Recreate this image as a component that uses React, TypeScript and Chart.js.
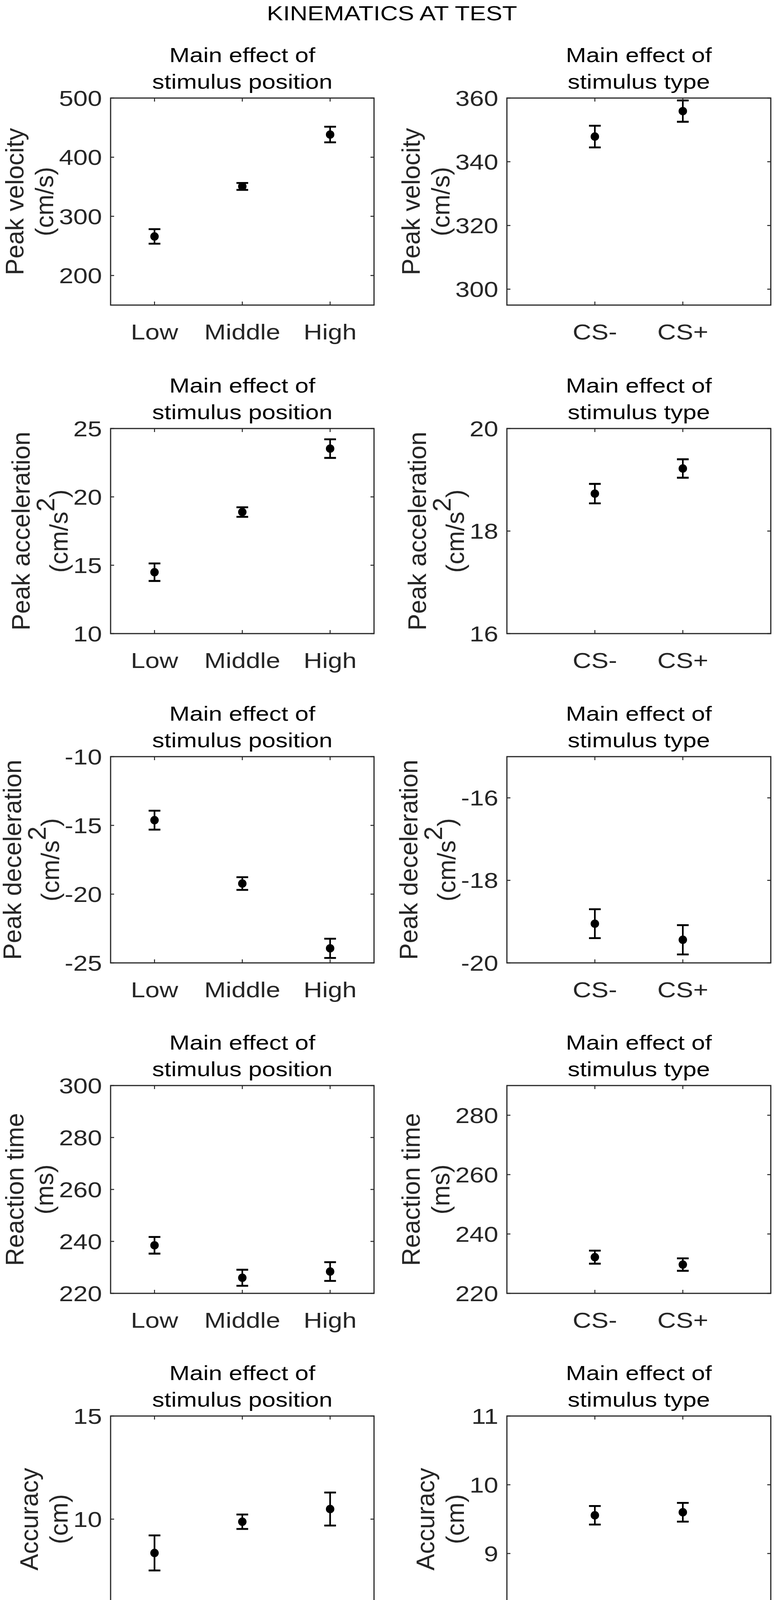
import React, { useEffect, useRef } from "react";
import { Chart, registerables } from "chart.js";

Chart.register(...registerables);

// ---------------- DATA ----------------
const positionCategories = ["Low", "Middle", "High"];
const typeCategories = ["CS-", "CS+"];
const positionX = [1, 2, 3];
const typeX = [1, 2];
const positionXRange = [0.5, 3.5];
const typeXRange = [0, 3];

const velocityPosMean = [266.0, 350.6, 438.3];
const velocityPosErr = [12.3, 5.9, 13.2];
const velocityTypeMean = [347.9, 355.9];
const velocityTypeErr = [3.4, 3.35];
const velocityPosRange = [150, 500];
const velocityTypeRange = [295, 360];
const velocityPosTicks = [200, 300, 400, 500];
const velocityTypeTicks = [300, 320, 340, 360];

const accelPosMean = [14.49, 18.89, 23.53];
const accelPosErr = [0.64, 0.35, 0.68];
const accelTypeMean = [18.73, 19.22];
const accelTypeErr = [0.19, 0.18];
const accelPosRange = [10, 25];
const accelTypeRange = [16, 20];
const accelPosTicks = [10, 15, 20, 25];
const accelTypeTicks = [16, 18, 20];

const decelPosMean = [-14.62, -19.23, -23.94];
const decelPosErr = [0.69, 0.46, 0.7];
const decelTypeMean = [-19.05, -19.44];
const decelTypeErr = [0.35, 0.355];
const decelPosRange = [-25, -10];
const decelTypeRange = [-20, -15];
const decelPosTicks = [-25, -20, -15, -10];
const decelTypeTicks = [-20, -18, -16];

const rtPosMean = [238.5, 226.0, 228.4];
const rtPosErr = [3.2, 3.1, 3.6];
const rtTypeMean = [232.2, 229.7];
const rtTypeErr = [2.2, 2.1];
const rtPosRange = [220, 300];
const rtTypeRange = [220, 290];
const rtPosTicks = [220, 240, 260, 280, 300];
const rtTypeTicks = [220, 240, 260, 280];

const accuracyPosMean = [8.36, 9.875, 10.49];
const accuracyPosErr = [0.85, 0.35, 0.8];
const accuracyTypeMean = [9.556, 9.6];
const accuracyTypeErr = [0.135, 0.136];
const accuracyPosRange = [5, 15];
const accuracyTypeRange = [8, 11];
const accuracyPosTicks = [5, 10, 15];
const accuracyTypeTicks = [8, 9, 10, 11];

const mainTitle = "KINEMATICS AT TEST";
const posTitle = ["Main effect of", "stimulus position"];
const typeTitle = ["Main effect of", "stimulus type"];

// ---------------- LAYOUT / STYLE ----------------
const FONT_FAMILY = '"Liberation Sans", Arial, Helvetica, sans-serif';
const TICK_FONT = 55;
const TICK_SX = 1.2;
const TITLE_FONT = 52;
const TITLE_SX = 1.2;
const YLABEL_FONT = 64;
const AXIS_COLOR = "#262626";

const COLS = [
  { left: 283, right: 957, cellLeft: 0, cellW: 992 },
  { left: 1297, right: 1974, cellLeft: 991, cellW: 992 },
];
const ROWS = [
  { top: 251, bottom: 781 },
  { top: 1097, bottom: 1622 },
  { top: 1937, bottom: 2465 },
  { top: 2779, bottom: 3311 },
  { top: 3625, bottom: 4153 },
];

type YLabel = { line1: string; base: string; sup?: string; tail?: string };

type PanelDef = {
  row: number;
  col: number;
  cats: string[];
  xs: number[];
  xRange: number[];
  mean: number[];
  err: number[];
  yRange: number[];
  yTicks: number[];
  title: string[];
  ylabel: YLabel;
};

const velLabel: YLabel = { line1: "Peak velocity", base: "(cm/s)" };
const accLabel: YLabel = { line1: "Peak acceleration", base: "(cm/s", sup: "2", tail: ")" };
const decLabel: YLabel = { line1: "Peak deceleration", base: "(cm/s", sup: "2", tail: ")" };
const rtLabel: YLabel = { line1: "Reaction time", base: "(ms)" };
const accuLabel: YLabel = { line1: "Accuracy", base: "(cm)" };

const panels: PanelDef[] = [
  { row: 0, col: 0, cats: positionCategories, xs: positionX, xRange: positionXRange, mean: velocityPosMean, err: velocityPosErr, yRange: velocityPosRange, yTicks: velocityPosTicks, title: posTitle, ylabel: velLabel },
  { row: 0, col: 1, cats: typeCategories, xs: typeX, xRange: typeXRange, mean: velocityTypeMean, err: velocityTypeErr, yRange: velocityTypeRange, yTicks: velocityTypeTicks, title: typeTitle, ylabel: velLabel },
  { row: 1, col: 0, cats: positionCategories, xs: positionX, xRange: positionXRange, mean: accelPosMean, err: accelPosErr, yRange: accelPosRange, yTicks: accelPosTicks, title: posTitle, ylabel: accLabel },
  { row: 1, col: 1, cats: typeCategories, xs: typeX, xRange: typeXRange, mean: accelTypeMean, err: accelTypeErr, yRange: accelTypeRange, yTicks: accelTypeTicks, title: typeTitle, ylabel: accLabel },
  { row: 2, col: 0, cats: positionCategories, xs: positionX, xRange: positionXRange, mean: decelPosMean, err: decelPosErr, yRange: decelPosRange, yTicks: decelPosTicks, title: posTitle, ylabel: decLabel },
  { row: 2, col: 1, cats: typeCategories, xs: typeX, xRange: typeXRange, mean: decelTypeMean, err: decelTypeErr, yRange: decelTypeRange, yTicks: decelTypeTicks, title: typeTitle, ylabel: decLabel },
  { row: 3, col: 0, cats: positionCategories, xs: positionX, xRange: positionXRange, mean: rtPosMean, err: rtPosErr, yRange: rtPosRange, yTicks: rtPosTicks, title: posTitle, ylabel: rtLabel },
  { row: 3, col: 1, cats: typeCategories, xs: typeX, xRange: typeXRange, mean: rtTypeMean, err: rtTypeErr, yRange: rtTypeRange, yTicks: rtTypeTicks, title: typeTitle, ylabel: rtLabel },
  { row: 4, col: 0, cats: positionCategories, xs: positionX, xRange: positionXRange, mean: accuracyPosMean, err: accuracyPosErr, yRange: accuracyPosRange, yTicks: accuracyPosTicks, title: posTitle, ylabel: accuLabel },
  { row: 4, col: 1, cats: typeCategories, xs: typeX, xRange: typeXRange, mean: accuracyTypeMean, err: accuracyTypeErr, yRange: accuracyTypeRange, yTicks: accuracyTypeTicks, title: typeTitle, ylabel: accuLabel },
];

function font(size: number) {
  return `${size}px ${FONT_FAMILY}`;
}

function drawScaledText(
  ctx: CanvasRenderingContext2D,
  text: string,
  x: number,
  y: number,
  size: number,
  sx: number,
  color: string,
  align: CanvasTextAlign
) {
  ctx.save();
  ctx.translate(x, y);
  ctx.scale(sx, 1);
  ctx.font = font(size);
  ctx.fillStyle = color;
  ctx.textAlign = align;
  ctx.textBaseline = "alphabetic";
  ctx.fillText(text, 0, 0);
  ctx.restore();
}

function makePlugin(p: PanelDef) {
  return {
    id: "matlabAxes" + p.row + "_" + p.col,
    beforeDatasetsDraw(chart: any) {
      const ctx: CanvasRenderingContext2D = chart.ctx;
      const xs = chart.scales.x;
      const ys = chart.scales.y;
      ctx.save();
      ctx.strokeStyle = "#000";
      ctx.lineCap = "butt";
      p.xs.forEach((xv, i) => {
        const px = xs.getPixelForValue(xv);
        const top = ys.getPixelForValue(p.mean[i] + p.err[i]);
        const bot = ys.getPixelForValue(p.mean[i] - p.err[i]);
        ctx.lineWidth = 4.3;
        ctx.beginPath();
        ctx.moveTo(px, top);
        ctx.lineTo(px, bot);
        ctx.stroke();
        ctx.lineWidth = 4.8;
        ctx.beginPath();
        ctx.moveTo(px - 15, top);
        ctx.lineTo(px + 15, top);
        ctx.moveTo(px - 15, bot);
        ctx.lineTo(px + 15, bot);
        ctx.stroke();
      });
      ctx.restore();
    },
    afterDatasetsDraw(chart: any) {
      const ctx: CanvasRenderingContext2D = chart.ctx;
      const xs = chart.scales.x;
      const ys = chart.scales.y;
      const a = chart.chartArea;
      ctx.save();
      // frame
      ctx.strokeStyle = AXIS_COLOR;
      ctx.lineWidth = 3;
      ctx.strokeRect(a.left, a.top, a.right - a.left, a.bottom - a.top);
      // ticks
      const TL = 9;
      ctx.lineWidth = 2.5;
      ctx.beginPath();
      p.yTicks.forEach((v) => {
        const py = ys.getPixelForValue(v);
        ctx.moveTo(a.left, py);
        ctx.lineTo(a.left + TL, py);
        ctx.moveTo(a.right, py);
        ctx.lineTo(a.right - TL, py);
      });
      p.xs.forEach((v) => {
        const px = xs.getPixelForValue(v);
        ctx.moveTo(px, a.bottom);
        ctx.lineTo(px, a.bottom - TL);
        ctx.moveTo(px, a.top);
        ctx.lineTo(px, a.top + TL);
      });
      ctx.stroke();

      // y tick labels
      ctx.font = font(TICK_FONT);
      let maxW = 0;
      p.yTicks.forEach((v) => {
        const t = String(v);
        maxW = Math.max(maxW, ctx.measureText(t).width * TICK_SX);
        const py = ys.getPixelForValue(v);
        drawScaledText(ctx, t, a.left - 22, py + 0.358 * TICK_FONT, TICK_FONT, TICK_SX, AXIS_COLOR, "right");
      });
      // x tick labels
      p.xs.forEach((v, i) => {
        const px = xs.getPixelForValue(v);
        drawScaledText(ctx, p.cats[i], px, a.bottom + 88, TICK_FONT, TICK_SX, AXIS_COLOR, "center");
      });

      // titles
      const cx = (a.left + a.right) / 2;
      drawScaledText(ctx, p.title[0], cx, a.top - 92, TITLE_FONT, TITLE_SX, "#000", "center");
      drawScaledText(ctx, p.title[1], cx, a.top - 24, TITLE_FONT, TITLE_SX, "#000", "center");

      // y label (two lines, rotated)
      const tickLeft = a.left - 22 - maxW;
      const hasSup = !!p.ylabel.sup;
      const line2Base = tickLeft - 15;
      const line1Base = line2Base - (hasSup ? 97 : 76);
      const cy = (a.top + a.bottom) / 2;
      ctx.font = font(YLABEL_FONT);
      ctx.fillStyle = AXIS_COLOR;
      ctx.textBaseline = "alphabetic";
      ctx.save();
      ctx.translate(line1Base, cy);
      ctx.rotate(-Math.PI / 2);
      ctx.textAlign = "center";
      ctx.fillText(p.ylabel.line1, 0, 0);
      ctx.restore();
      ctx.save();
      ctx.translate(line2Base, cy);
      ctx.rotate(-Math.PI / 2);
      ctx.textAlign = "left";
      const wBase = ctx.measureText(p.ylabel.base).width;
      const wSup = p.ylabel.sup ? ctx.measureText(p.ylabel.sup).width : 0;
      const wTail = p.ylabel.tail ? ctx.measureText(p.ylabel.tail).width : 0;
      const total = wBase + wSup + wTail;
      let x0 = -total / 2;
      ctx.fillText(p.ylabel.base, x0, 0);
      x0 += wBase;
      if (p.ylabel.sup) {
        ctx.fillText(p.ylabel.sup, x0, -0.52 * YLABEL_FONT);
        x0 += wSup;
      }
      if (p.ylabel.tail) {
        ctx.fillText(p.ylabel.tail, x0, 0);
      }
      ctx.restore();

      ctx.restore();
    },
  };
}

function Panel({ p }: { p: PanelDef }) {
  const ref = useRef<HTMLCanvasElement | null>(null);
  const col = COLS[p.col];
  const row = ROWS[p.row];
  const cTop = row.top - 250;
  const cH = Math.min(row.bottom - row.top + 250 + 109, 4262 - cTop);
  const cLeft = col.cellLeft;
  const cW = col.cellW;

  useEffect(() => {
    if (!ref.current) return;
    const chart = new Chart(ref.current, {
      type: "scatter",
      data: {
        datasets: [
          {
            data: p.xs.map((x, i) => ({ x, y: p.mean[i] })),
            pointRadius: 10.8,
            pointHoverRadius: 10.8,
            pointBackgroundColor: "#000",
            pointBorderColor: "#000",
            pointBorderWidth: 0,
            clip: false as any,
          },
        ],
      },
      options: {
        animation: false,
        responsive: false,
        maintainAspectRatio: false,
        events: [],
        layout: {
          padding: {
            left: col.left - cLeft,
            right: cLeft + cW - col.right,
            top: row.top - cTop,
            bottom: cTop + cH - row.bottom,
          },
        },
        plugins: {
          legend: { display: false },
          tooltip: { enabled: false },
          title: { display: false },
        },
        scales: {
          x: { type: "linear", display: false, min: p.xRange[0], max: p.xRange[1] },
          y: { type: "linear", display: false, min: p.yRange[0], max: p.yRange[1] },
        },
      },
      plugins: [makePlugin(p)],
    });
    return () => chart.destroy();
  }, []);

  return (
    <canvas
      ref={ref}
      width={cW}
      height={cH}
      style={{ position: "absolute", left: cLeft, top: cTop, width: cW, height: cH, display: "block" }}
    />
  );
}

export default function App() {
  useEffect(() => {
    document.documentElement.style.overflow = "hidden";
    document.body.style.overflow = "hidden";
    document.body.style.margin = "0";
  }, []);
  return (
    <div
      style={{
        position: "absolute",
        left: 0,
        top: 0,
        width: 1983,
        height: 4262,
        background: "#fff",
        overflow: "hidden",
      }}
    >
      {panels.map((p) => (
        <Panel key={p.row + "_" + p.col} p={p} />
      ))}
      <div
        style={{
          position: "absolute",
          left: 1003,
          top: 8,
          transform: `translateX(-50%) scaleX(${TITLE_SX})`,
          font: font(TITLE_FONT),
          lineHeight: `${TITLE_FONT}px`,
          whiteSpace: "nowrap",
          color: "#000",
          zIndex: 2,
        }}
      >
        {mainTitle}
      </div>
    </div>
  );
}
